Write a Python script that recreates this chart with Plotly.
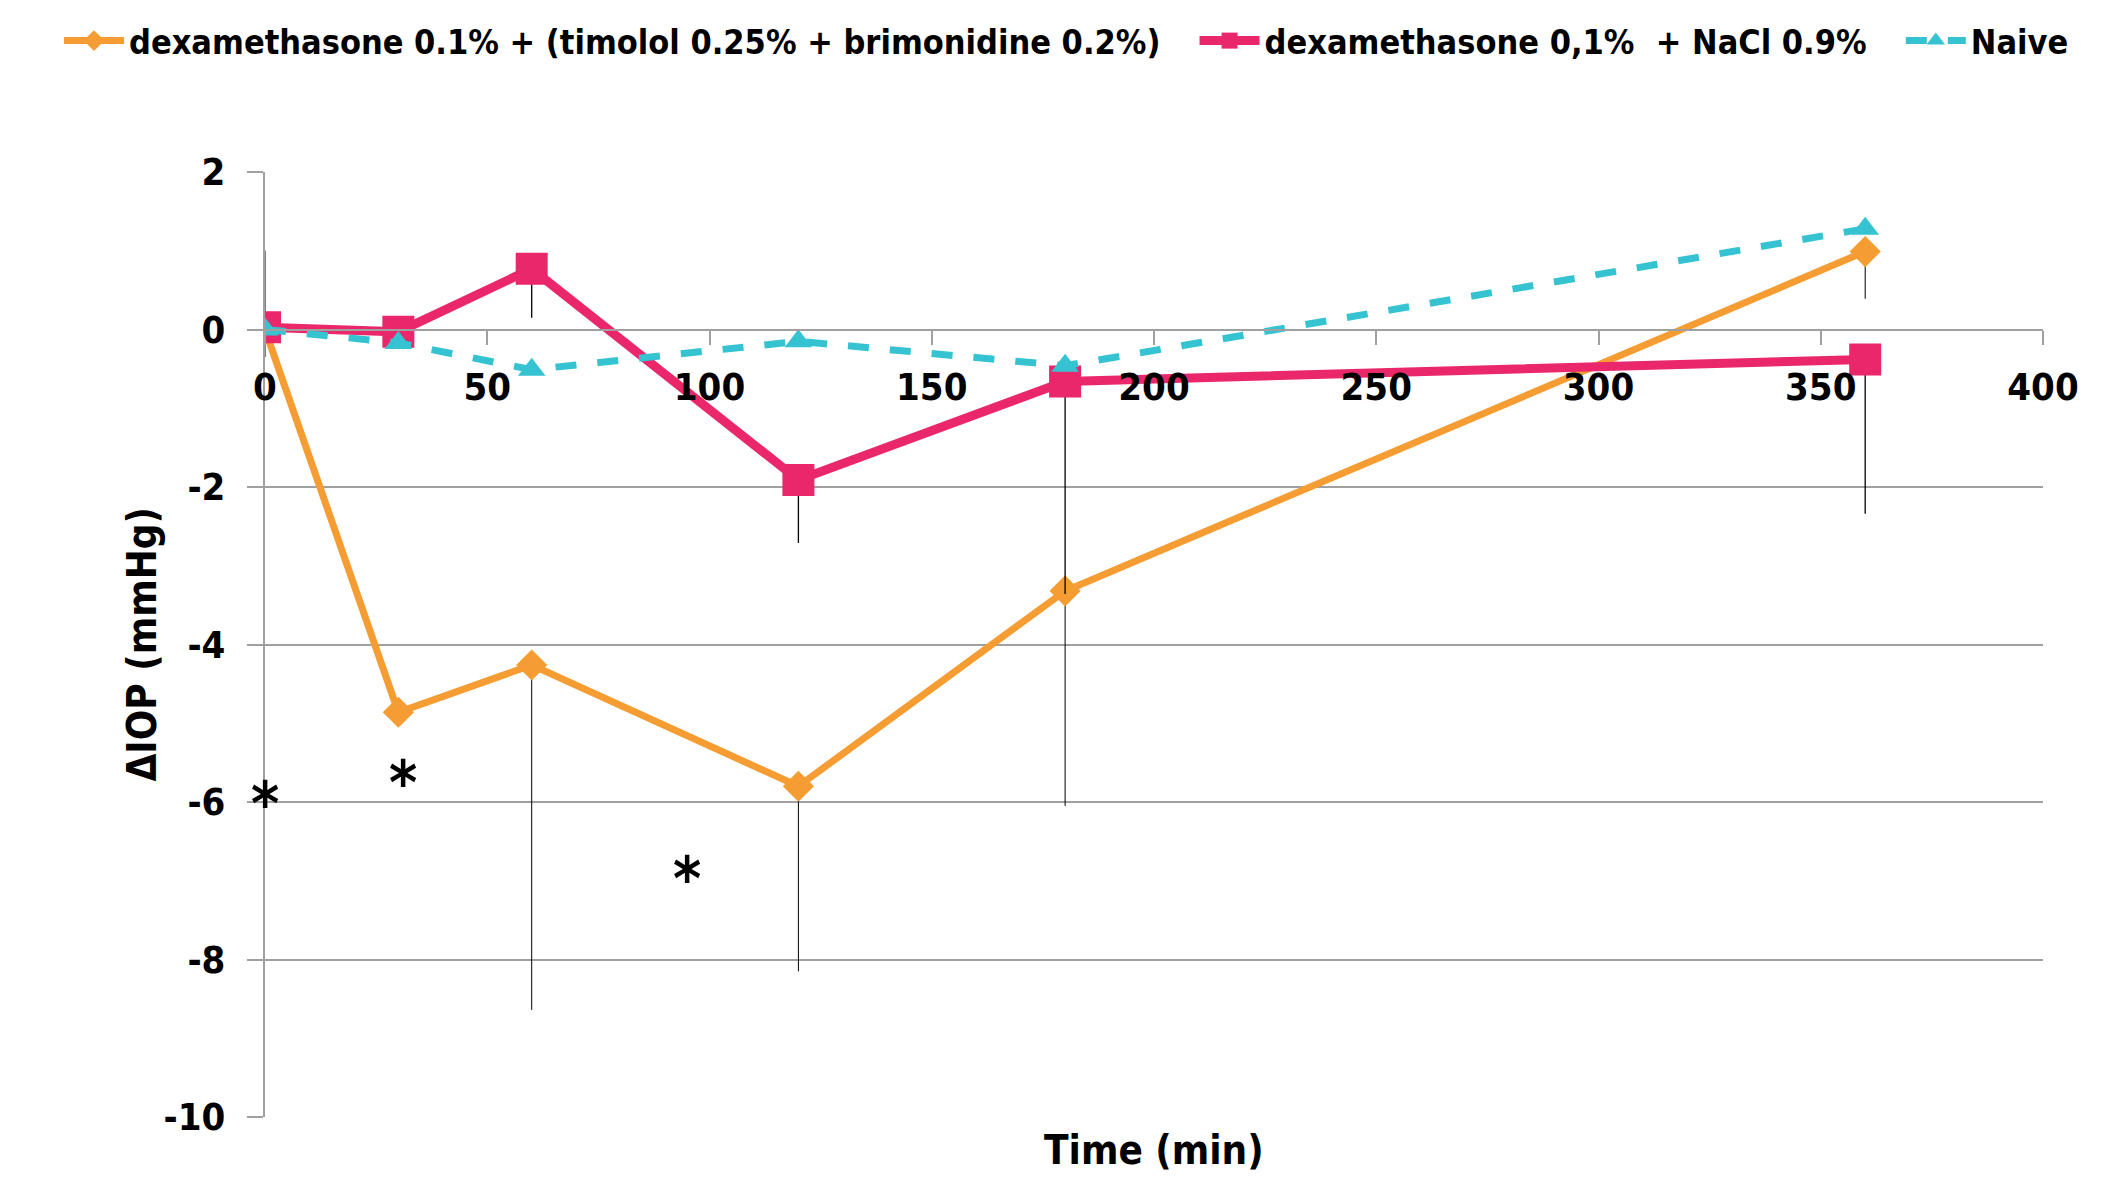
import plotly.graph_objects as go

time_min = [0, 30, 60, 120, 180, 360]

dex_tim_brim = [0.0, -4.86, -4.26, -5.80, -3.32, 0.99]
dex_tim_brim_err_plus = [1.0, 0, 0, 0, 0, 0]
dex_tim_brim_err_minus = [0.35, 0, 4.38, 2.35, 2.73, 0.6]

dex_nacl = [0.03, -0.03, 0.77, -1.91, -0.66, -0.38]
dex_nacl_err_minus = [0, 0, 0.62, 0.80, 2.7, 1.96]

naive = [0.0, -0.17, -0.51, -0.15, -0.46, 1.28]

star_x = [0, 31, 95]
star_y = [-5.93, -5.66, -6.87]

names = ["dexamethasone 0.1% + (timolol 0.25% + brimonidine 0.2%)",
         "dexamethasone 0,1%  + NaCl 0.9%",
         "Naive"]

FONT = "Liberation Sans Narrow, DejaVu Sans Condensed, Arial Narrow, Liberation Sans, sans-serif"

L, R, T, B = 257, 71, 164, 72
PW = 2106 - L - R
PH = 1181 - T - B
PAD = "\u00a0\u00a0\u00a0"

fig = go.Figure()
fig.add_trace(go.Scatter(
    x=time_min, y=dex_tim_brim, name="<b>%s</b>%s" % (names[0], PAD), mode="lines+markers",
    line=dict(color="#F59D33", width=7),
    marker=dict(symbol="diamond", size=24, color="#F59D33"),
    error_y=dict(type="data", symmetric=False, array=dex_tim_brim_err_plus,
                 arrayminus=dex_tim_brim_err_minus, color="black", thickness=1, width=0),
))
fig.add_trace(go.Scatter(
    x=time_min, y=dex_nacl, name="<b>%s</b>%s" % (names[1], PAD), mode="lines+markers",
    line=dict(color="#EA276B", width=9),
    marker=dict(symbol="square", size=32, color="#EA276B"),
    error_y=dict(type="data", symmetric=False, array=[0]*6,
                 arrayminus=dex_nacl_err_minus, color="black", thickness=1.3, width=0),
))
fig.add_trace(go.Scatter(
    x=time_min, y=naive, name="<b>%s</b>" % names[2], mode="lines+markers",
    line=dict(color="#35C3D2", width=7, dash="dash"),
    marker=dict(symbol="triangle-up", size=24, color="#35C3D2"),
))

for sx, sy in zip(star_x, star_y):
    fig.add_annotation(x=sx, y=sy, text="<b>*</b>", showarrow=False,
                       font=dict(family=FONT, size=60, color="black"),
                       xanchor="center", yanchor="middle", yshift=-8)

fig.add_annotation(xref="paper", yref="paper", x=0.5, y=-0.035, text="<b>Time (min)</b>",
                   showarrow=False, xanchor="center", yanchor="middle",
                   font=dict(family=FONT, size=40, color="black"))
fig.add_annotation(xref="paper", yref="paper", x=(133 - L) / PW, y=0.5, text="<b>ΔIOP (mmHg)</b>",
                   showarrow=False, textangle=-90, xanchor="center", yanchor="middle",
                   font=dict(family=FONT, size=40, color="black"))

fig.update_layout(
    width=2106, height=1181,
    margin=dict(l=L, r=R, t=T, b=B, autoexpand=False),
    paper_bgcolor="white", plot_bgcolor="white",
    font=dict(family=FONT, color="black"),
    showlegend=True,
    legend=dict(orientation="h", xref="paper", yref="paper",
                x=(51 - L) / PW, y=(PH + T - 4) / PH,
                xanchor="left", yanchor="top", font=dict(family=FONT, size=34, color="black"),
                itemwidth=60, tracegroupgap=0, bgcolor="rgba(0,0,0,0)"),
    xaxis=dict(range=[0, 400], tickvals=[0, 50, 100, 150, 200, 250, 300, 350, 400],
               ticktext=["<b>%d</b>" % v for v in [0, 50, 100, 150, 200, 250, 300, 350, 400]],
               showgrid=False, zeroline=False, showline=True, linecolor="#a0a0a0", linewidth=2,
               ticks="outside", ticklen=14, tickcolor="#a0a0a0", tickwidth=2,
               anchor="free", position=10/12, ticklabelstandoff=10,
               tickfont=dict(family=FONT, size=38, color="black")),
    yaxis=dict(range=[-10, 2], tickvals=[2, 0, -2, -4, -6, -8, -10],
               ticktext=["<b>%d</b>" % v for v in [2, 0, -2, -4, -6, -8, -10]],
               showgrid=True, gridcolor="#a0a0a0", gridwidth=2, zeroline=False,
               showline=True, linecolor="#a0a0a0", linewidth=2,
               ticks="outside", ticklen=16, tickcolor="#a0a0a0", tickwidth=2,
               ticklabelstandoff=14,
               tickfont=dict(family=FONT, size=38, color="black")),
)

fig.write_html("out.html")
